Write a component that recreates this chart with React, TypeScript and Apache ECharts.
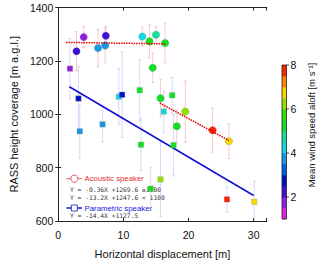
import React, { useEffect, useRef } from "react";
import * as echarts from "echarts";

// Acoustic speaker (circles)
const acX = [3.9, 2.8, 7.3, 6.1, 7.2, 12.9, 14.0, 15.0, 14.5, 16.4, 15.7, 19.5, 18.2, 23.7, 26.2];
const acY = [1289, 1236, 1294, 1248, 1258, 1291, 1273, 1298, 1174, 1267, 1060, 1010, 955, 940, 899];
const acErr = [40, 74, 35, 70, 65, 35, 62, 30, 55, 74, 70, 115, 62, 82, 65];
const acWind = [1.8, 2.2, 2.3, 3.7, 3.6, 4.2, 5.2, 4.7, 5.3, 5.4, 5.3, 6.2, 5.3, 7.8, 6.8];

// Parametric speaker (squares)
const paX = [1.8, 3.1, 3.3, 6.8, 9.3, 9.8, 12.5, 12.7, 14.2, 15.7, 17.5, 17.7, 16.2, 25.9, 30.1];
const paY = [1171, 1059, 936, 962, 1066, 1073, 1090, 886, 721, 756, 1071, 884, 1010, 681, 672];
const paErr = [113, 120, 100, 66, 105, 160, 115, 97, 80, 140, 67, 115, 80, 47, 77];
const paWind = [1.8, 2.7, 3.6, 3.6, 4.2, 2.6, 5.2, 5.3, 5.2, 6.1, 5.2, 5.3, 4.3, 7.8, 6.8];

// Fits: [slope, intercept, xStart, xEnd]
const fitAcHigh = [-0.36, 1269.6, 1.2, 16.4];
const fitAcLow = [-13.2, 1247.6, 15.6, 26.2];
const fitPa = [-14.4, 1127.5, 1.7, 30.0];

const xTicks = [0, 10, 20, 30];
const yTicks = [600, 800, 1000, 1200, 1400];
const cbTicks = [2, 4, 6, 8];

const windPieces = [
  { min: 1, max: 1.5, color: "#e020e0" },
  { min: 1.5, max: 2, color: "#9020e0" },
  { min: 2, max: 2.5, color: "#4010d8" },
  { min: 2.5, max: 3, color: "#0010c8" },
  { min: 3, max: 3.5, color: "#0060e0" },
  { min: 3.5, max: 4, color: "#1898e0" },
  { min: 4, max: 4.5, color: "#10d8e0" },
  { min: 4.5, max: 5, color: "#10e0a0" },
  { min: 5, max: 5.5, color: "#10e020" },
  { min: 5.5, max: 6, color: "#30e000" },
  { min: 6, max: 6.5, color: "#90e000" },
  { min: 6.5, max: 7, color: "#f8d800" },
  { min: 7, max: 7.5, color: "#ff8000" },
  { min: 7.5, max: 8, color: "#ff2000" },
];

const FONT = "Liberation Sans";
const MONO = "DejaVu Sans Mono";

function fitLine(f: number[]) {
  return [
    [f[2], f[0] * f[2] + f[1]],
    [f[3], f[0] * f[3] + f[1]],
  ];
}

function errRender(color: string) {
  return (params: any, api: any) => {
    const x = api.value(0);
    const y = api.value(1);
    const e = api.value(2);
    const p1 = api.coord([x, y + e]);
    const p2 = api.coord([x, y - e]);
    const style = { stroke: color, lineWidth: 1 };
    return {
      type: "group",
      children: [
        { type: "line", shape: { x1: p1[0], y1: p1[1], x2: p2[0], y2: p2[1] }, style },
        { type: "line", shape: { x1: p1[0] - 1.5, y1: p1[1], x2: p1[0] + 1.5, y2: p1[1] }, style },
        { type: "line", shape: { x1: p2[0] - 1.5, y1: p2[1], x2: p2[0] + 1.5, y2: p2[1] }, style },
      ],
    };
  };
}

export default function App() {
  const ref = useRef<HTMLDivElement>(null);
  useEffect(() => {
    if (!ref.current) return;
    const chart = echarts.init(ref.current, null, { renderer: "svg" });

    const gridL = 52, gridR = 53.3, gridT = 7.5, gridB = 41.5;

    // colorbar geometry
    const cbX = 282, cbW = 4.5, cbTop = 65, cbBot = 219, vMin = 1, vMax = 8;
    const vy = (v: number) => cbBot - ((v - vMin) / (vMax - vMin)) * (cbBot - cbTop);
    const cbElems: any[] = windPieces.map((p) => ({
      type: "rect",
      shape: { x: cbX, y: vy(p.max), width: cbW, height: vy(p.min) - vy(p.max) + 0.3 },
      style: { fill: p.color },
    }));
    cbElems.push({
      type: "rect",
      shape: { x: cbX, y: cbTop, width: cbW, height: cbBot - cbTop },
      style: { fill: "none", stroke: "#222", lineWidth: 0.8 },
    });
    cbTicks.forEach((t) => {
      cbElems.push({
        type: "line",
        shape: { x1: cbX + cbW, y1: vy(t), x2: cbX + cbW + 2.5, y2: vy(t) },
        style: { stroke: "#222", lineWidth: 0.8 },
      });
      cbElems.push({
        type: "text",
        x: cbX + cbW + 4,
        y: vy(t),
        style: { text: String(t), fontFamily: FONT, fontSize: 10.5, fill: "#111", verticalAlign: "middle", align: "left" },
      });
    });
    cbElems.push({
      type: "text",
      x: 311,
      y: 125,
      rotation: Math.PI / 2,
      style: {
        text: "Mean wind speed aloft [m s⁻¹]",
        fontFamily: FONT,
        fontSize: 9.5,
        fill: "#111",
        align: "center",
        verticalAlign: "middle",
      },
    });

    const legendElems: any[] = [
      { type: "line", shape: { x1: 66.5, y1: 178.7, x2: 82, y2: 178.7 }, style: { stroke: "#e03030", lineWidth: 0.8 } },
      { type: "circle", shape: { cx: 74.3, cy: 178.7, r: 3.6 }, style: { fill: "#fff", stroke: "#e03030", lineWidth: 0.8 } },
      { type: "text", x: 84.5, y: 178.7, style: { text: "Acoustic speaker", fontFamily: FONT, fontSize: 7.8, fill: "#e03030", verticalAlign: "middle" } },
      { type: "text", x: 70, y: 189.3, style: { text: "Y = -0.36X +1269.6 ≥1100", fontFamily: MONO, fontSize: 6.3, fill: "#333", verticalAlign: "middle" } },
      { type: "text", x: 70, y: 197.5, style: { text: "Y = -13.2X +1247.6 < 1100", fontFamily: MONO, fontSize: 6.3, fill: "#333", verticalAlign: "middle" } },
      { type: "line", shape: { x1: 66.5, y1: 208, x2: 82, y2: 208 }, style: { stroke: "#1010d0", lineWidth: 1.5 } },
      { type: "rect", shape: { x: 71.3, y: 205, width: 6, height: 6 }, style: { fill: "#fff", stroke: "#1010d0", lineWidth: 0.8 } },
      { type: "text", x: 84.5, y: 208, style: { text: "Parametric speaker", fontFamily: FONT, fontSize: 7.8, fill: "#2020e0", verticalAlign: "middle" } },
      { type: "text", x: 70, y: 215.8, style: { text: "Y = -14.4X +1127.5", fontFamily: MONO, fontSize: 6.3, fill: "#333", verticalAlign: "middle" } },
    ];

    const axisLine = { show: true, lineStyle: { color: "#222", width: 1 } };
    const tick = { show: true, inside: true, length: 3, lineStyle: { color: "#222" } };

    chart.setOption({
      animation: false,
      backgroundColor: "#fff",
      textStyle: { fontFamily: FONT },
      grid: { left: gridL, right: gridR, top: gridT, bottom: gridB, containLabel: false },
      xAxis: [
        {
          type: "value",
          min: 0,
          max: 32,
          interval: 10,
          axisLine,
          axisTick: tick,
          splitLine: { show: false },
          axisLabel: {
            color: "#111",
            fontSize: 10.5,
            margin: 8,
            formatter: (v: number) => (xTicks.includes(v) ? String(v) : ""),
          },
          name: "Horizontal displacement [m]",
          nameLocation: "middle",
          nameGap: 27,
          nameTextStyle: { color: "#111", fontSize: 11, fontFamily: FONT },
        },
        {
          type: "value",
          position: "top",
          min: 0,
          max: 32,
          interval: 10,
          axisLine,
          axisTick: tick,
          splitLine: { show: false },
          axisLabel: { show: false },
        },
      ],
      yAxis: [
        {
          type: "value",
          min: 600,
          max: 1400,
          interval: 200,
          axisLine,
          axisTick: tick,
          splitLine: { show: false },
          axisLabel: {
            color: "#111",
            fontSize: 10.5,
            margin: 5,
            formatter: (v: number) => (yTicks.includes(v) ? String(v) : ""),
          },
          name: "RASS height coverage [m a.g.l.]",
          nameLocation: "middle",
          nameGap: 35,
          nameTextStyle: { color: "#111", fontSize: 11, fontFamily: FONT },
        },
        {
          type: "value",
          position: "right",
          min: 600,
          max: 1400,
          interval: 200,
          axisLine,
          axisTick: tick,
          splitLine: { show: false },
          axisLabel: { show: false },
        },
      ],
      visualMap: {
        type: "piecewise",
        show: false,
        dimension: 2,
        seriesIndex: [4, 5],
        pieces: windPieces,
      },
      series: [
        {
          type: "custom",
          renderItem: errRender("rgba(245,160,160,0.55)"),
          data: acX.map((x, i) => [x, acY[i], acErr[i]]),
          clip: true,
          z: 1,
        },
        {
          type: "custom",
          renderItem: errRender("rgba(170,170,240,0.45)"),
          data: paX.map((x, i) => [x, paY[i], paErr[i]]),
          clip: true,
          z: 1,
        },
        {
          type: "line",
          data: fitLine(fitPa),
          symbol: "none",
          lineStyle: { color: "#1010d0", width: 1.5 },
          z: 2,
        },
        {
          type: "line",
          data: fitLine(fitAcHigh),
          symbol: "none",
          lineStyle: { color: "#e00000", width: 1.5, type: [1.5, 1] },
          z: 5,
        },
        {
          type: "scatter",
          data: acX.map((x, i) => [x, acY[i], acWind[i]]),
          symbol: "circle",
          symbolSize: 7.5,
          itemStyle: { borderColor: "rgba(140,140,140,0.45)", borderWidth: 0.6, opacity: 1 },
          z: 3,
        },
        {
          type: "scatter",
          data: paX.map((x, i) => [x, paY[i], paWind[i]]),
          symbol: "rect",
          symbolSize: 5.5,
          itemStyle: { borderColor: "rgba(150,150,150,0.5)", borderWidth: 0.6, opacity: 1 },
          z: 3,
        },
        {
          type: "line",
          data: fitLine(fitAcLow),
          symbol: "none",
          lineStyle: { color: "#e00000", width: 1.5, type: [1.5, 1] },
          z: 5,
        },
      ],
      graphic: [...cbElems, ...legendElems],
    });
    return () => chart.dispose();
  }, []);
  return (
    <div
      ref={ref}
      style={{ position: "fixed", left: 0, top: 0, width: 320, height: 264, background: "#fff" }}
    />
  );
}
